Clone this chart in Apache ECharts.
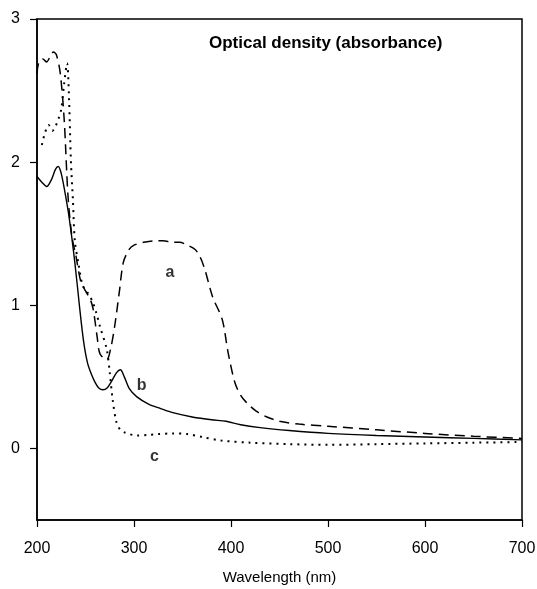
<!DOCTYPE html>
<html>
<head>
<meta charset="utf-8">
<script src="https://cdn.jsdelivr.net/npm/echarts@6/dist/echarts.min.js"></script>
<style>
html,body{margin:0;padding:0;background:#fff;width:100%;height:100%;overflow:hidden;}
#c{width:537px;height:589px;}
</style>
</head>
<body>
<div id="c"></div>
<script>
// Curve a (dashed): [wavelength nm, absorbance]
const curveA = [
  [200,2.62],[202,2.70],[206,2.72],[210,2.70],[213,2.73],[217,2.77],[220,2.75],[224,2.62],
  [228,2.30],[232,1.76],[236,1.48],[240,1.35],[245,1.17],[250,1.10],[255,1.04],[258,0.97],
  [262,0.78],[265,0.66],[272,0.62],[276,0.70],[280,0.85],[285,1.10],[289,1.30],[295,1.39],
  [300,1.42],[310,1.44],[320,1.45],[330,1.45],[340,1.44],[347,1.44],[355,1.42],[363,1.39],
  [368,1.34],[373,1.25],[381,1.06],[391,0.90],[397,0.67],[404,0.46],[410,0.37],[416,0.32],
  [426,0.26],[437,0.22],[450,0.19],[470,0.17],[500,0.155],[550,0.13],[600,0.105],[650,0.085],[700,0.07]
];
// Curve b (solid)
const curveB = [
  [200,1.90],[205,1.86],[210,1.83],[215,1.88],[219,1.95],[222,1.97],[225,1.92],[228,1.82],
  [233,1.62],[239,1.30],[244,0.98],[248,0.75],[252,0.60],[256,0.52],[260,0.46],[264,0.42],
  [268,0.41],[272,0.42],[277,0.47],[282,0.53],[286,0.55],[290,0.50],[295,0.42],[303,0.36],
  [315,0.31],[327,0.28],[340,0.25],[360,0.22],[380,0.20],[395,0.19],[410,0.165],[430,0.145],
  [460,0.125],[500,0.105],[550,0.09],[600,0.08],[650,0.07],[700,0.06]
];
// Curve c (dotted)
const curveC = [
  [205,2.12],[208,2.20],[212,2.26],[216,2.22],[219,2.25],[222,2.30],[225,2.37],[228,2.55],
  [231,2.69],[233,2.45],[235,2.00],[237,1.74],[239,1.45],[243,1.28],[247,1.14],[252,1.09],
  [257,1.03],[261,0.95],[265,0.85],[272,0.69],[275,0.53],[278,0.34],[282,0.18],[286,0.13],
  [291,0.11],[303,0.09],[315,0.095],[325,0.10],[340,0.105],[355,0.10],[370,0.08],[390,0.055],
  [420,0.04],[460,0.03],[500,0.025],[550,0.03],[600,0.035],[650,0.04],[700,0.045]
];
// Curve labels: [wavelength, absorbance, text]
const curveLabels = [[337,1.23,'a'],[308,0.44,'b'],[321,-0.06,'c']];
const yTickValues = [0,1,2,3];
const xTitle = 'Wavelength (nm)';
const chartTitle = 'Optical density (absorbance)';

const font = '"Liberation Sans", Arial, sans-serif';
const chart = echarts.init(document.getElementById('c'), null, {renderer:'canvas'});
chart.setOption({
  animation:false,
  backgroundColor:'#fff',
  title:{text:chartTitle,left:204,top:30,textStyle:{fontFamily:font,fontSize:17,fontWeight:'bold',color:'#000'}},
  grid:{left:37,right:15,top:19,bottom:69,show:true,borderColor:'#000',borderWidth:1.5,backgroundColor:'transparent',
    containLabel:false,outerBoundsMode:'none'},
  xAxis:{type:'value',min:200,max:700,interval:100,
    name:xTitle,nameLocation:'middle',nameGap:50,
    nameTextStyle:{fontFamily:font,fontSize:15,color:'#000'},
    axisLine:{show:true,onZero:false,lineStyle:{color:'#000',width:1.5}},
    axisTick:{show:true,inside:false,length:7,lineStyle:{color:'#000',width:1.2}},
    axisLabel:{fontFamily:font,fontSize:16,color:'#000',margin:21},
    splitLine:{show:false}},
  yAxis:{type:'value',min:-0.5,max:3,
    axisLine:{show:true,onZero:false,lineStyle:{color:'#000',width:1.5}},
    axisTick:{show:true,inside:false,length:7,customValues:yTickValues,lineStyle:{color:'#000',width:1.2}},
    axisLabel:{fontFamily:font,fontSize:16,color:'#000',margin:17,customValues:yTickValues},
    splitLine:{show:false}},
  series:[
    {type:'line',data:curveA,showSymbol:false,smooth:0.3,lineStyle:{color:'#000',width:1.5,type:[10,6]}},
    {type:'line',data:curveB,showSymbol:false,smooth:0.3,lineStyle:{color:'#000',width:1.4,type:'solid'}},
    {type:'line',data:curveC,showSymbol:false,smooth:0.3,lineStyle:{color:'#000',width:2,type:[2,5]}},
    {type:'scatter',data:curveLabels.map(d=>({value:[d[0],d[1]],name:d[2]})),symbolSize:1,
      itemStyle:{color:'transparent'},
      label:{show:true,position:'inside',formatter:p=>p.name,fontFamily:font,fontSize:16,fontWeight:'bold',color:'#000'}}
  ]
});
</script>
</body>
</html>
